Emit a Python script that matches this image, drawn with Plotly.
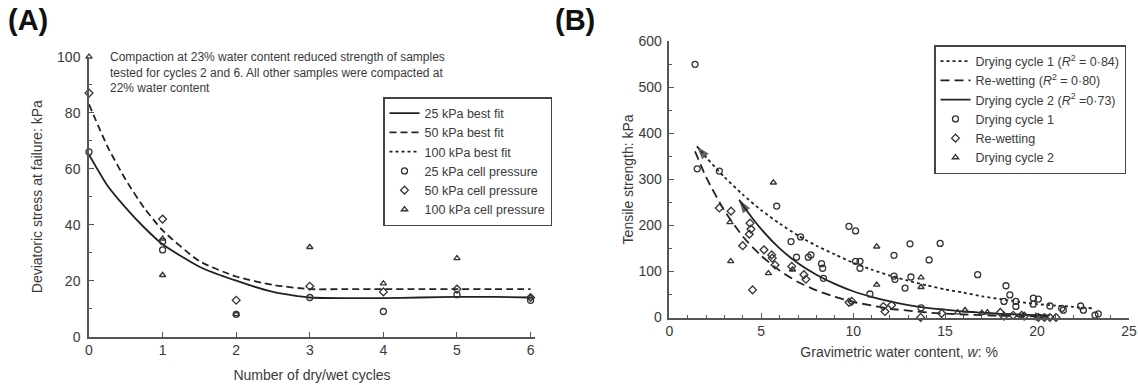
import plotly.graph_objects as go

# ---------------- Panel A data ----------------
cycles_25 = [0, 1, 1, 2, 3, 4, 5, 6]
stress_25 = [66, 31, 34, 8, 14, 9, 15, 13]
cycles_50 = [0, 1, 2, 3, 4, 5, 6]
stress_50 = [87, 42, 13, 18, 16, 17, 14]
cycles_100 = [0, 1, 1, 2, 3, 4, 5, 6]
stress_100 = [100, 35, 22, 8, 32, 19, 28, 14]

fit_cycles = [0, 0.25, 0.5, 0.75, 1, 1.5, 2, 2.5, 3, 3.5, 4, 4.5, 5, 5.5, 6]
fit_25 = [65, 54, 46, 39, 33, 25, 20, 16, 14, 13.8, 13.8, 14, 14.2, 14.2, 14]
fit_50 = [83, 68, 56, 46, 38, 27, 21.5, 18.5, 17, 17, 17, 17, 17, 17, 17]
# 100 kPa best fit is listed in the legend but no curve is visible in the plot
fit_100_cycles = [None]
fit_100 = [None]

# ---------------- Panel B data ----------------
dry1_w = [1.4, 1.52, 2.72, 5.84, 6.62, 6.92, 7.14, 7.56, 7.7, 8.28, 8.34, 8.38, 9.77, 10.13,
          10.13, 10.37, 10.37, 10.91, 12.22, 12.22, 12.27, 12.82, 13.09, 13.14, 13.69, 14.13,
          14.73, 16.77, 18.2, 18.31, 18.52, 18.85, 18.85, 19.79, 19.8, 20.07, 20.7, 21.34,
          21.43, 22.37, 22.52, 23.15, 23.33]
dry1_s = [550, 323, 318, 242, 165, 131, 175, 131, 136, 117, 107, 85, 198, 188,
          122, 122, 107, 51, 135, 90, 83, 64, 160, 88, 21, 125,
          161, 93, 35, 69, 49, 35, 24, 29, 42, 40, 25, 20,
          16, 25, 16, 5, 8]

rewet_w = [2.72, 3.36, 3.99, 4.35, 4.44, 4.39, 4.53, 5.15, 5.57, 5.6, 5.75, 6.66, 7.32, 7.43,
           9.77, 9.92, 11.64, 11.73, 12.09, 13.67, 14.81, 18.0, 18.2, 18.7, 19.16, 19.3,
           20.07, 20.4, 20.7, 21.03]
rewet_s = [238, 231, 156, 181, 192, 205, 60, 147, 136, 129, 114, 111, 93, 83,
           33, 35, 24, 13, 27, 0, 9, 11, 3, 5, 5, 3,
           0, 0, 0, 0]

dry2_w = [3.30, 3.34, 5.39, 5.66, 6.7, 11.28, 11.28, 13.69, 13.69, 15.68, 16.08, 17.0, 17.3]
dry2_s = [207, 122, 96, 293, 104, 154, 71, 87, 66, 11, 16, 10, 11]

fit_dry1_w = [1.5, 2, 3, 4, 5, 6, 7, 8, 9, 10, 11, 12, 13, 14, 15, 16, 17, 18, 19, 20, 21, 22, 23]
fit_dry1_s = [372, 348, 305, 267, 233, 204, 178, 156, 137, 119, 104, 91, 80, 70, 61, 54, 46,
              40, 34, 29, 26, 23, 20]
fit_rewet_w = [1.4, 2, 3, 4, 5, 6, 7, 8, 9, 10, 11, 12, 13, 14, 15, 16, 17, 18, 19, 20, 20.6]
fit_rewet_s = [361, 305, 232, 176, 134, 102, 77, 59, 45, 34, 26, 19, 15, 11, 8.5, 6.5, 5,
               3.8, 2.9, 2.2, 1.8]
fit_dry2_w = [3.8, 4, 5, 6, 7, 8, 9, 10, 11, 12, 13, 14, 15, 16, 17, 18, 19, 20, 20.7]
fit_dry2_s = [256, 244, 192, 150, 118, 93, 73, 57, 45, 35, 27, 21, 17, 13, 10.5, 8, 6.5, 5, 4.5]

# ---------------- Styling ----------------
FONT = "Arial, Liberation Sans, sans-serif"
TXT = "#3a3a3a"
LINEC = "#222222"
AXC = "#555555"
MK = "#333333"

fig = go.Figure()

def line_trace(x, y, name, dash, xa, ya, leg):
    return go.Scatter(x=x, y=y, mode="lines", name=name, xaxis=xa, yaxis=ya, legend=leg,
                      line=dict(color=LINEC, width=1.8, dash=dash, shape="spline", smoothing=0.6),
                      cliponaxis=False, showlegend=True)

def mark_trace(x, y, name, symbol, size, xa, ya, leg):
    return go.Scatter(x=x, y=y, mode="markers", name=name, xaxis=xa, yaxis=ya, legend=leg,
                      marker=dict(symbol=symbol, size=size, color=MK,
                                  line=dict(color=MK, width=1.3)),
                      cliponaxis=False)

def arrow_trace(xs, ys):
    # arrowhead at the last point, oriented along the curve
    return go.Scatter(x=xs, y=ys, mode="markers", xaxis="x2", yaxis="y2", showlegend=False,
                      hoverinfo="skip", cliponaxis=False,
                      marker=dict(symbol="arrow", size=[0, 14], angleref="previous",
                                  color=LINEC, line=dict(width=0)))

DASH = "7px,4px"

# Panel A
fig.add_trace(line_trace(fit_cycles, fit_25, "25 kPa best fit", "solid", "x", "y", "legend"))
fig.add_trace(line_trace(fit_cycles, fit_50, "50 kPa best fit", DASH, "x", "y", "legend"))
fig.add_trace(line_trace(fit_100_cycles, fit_100, "100 kPa best fit", "dot", "x", "y", "legend"))
fig.add_trace(mark_trace(cycles_25, stress_25, "25 kPa cell pressure", "circle-open", 6, "x", "y", "legend"))
fig.add_trace(mark_trace(cycles_50, stress_50, "50 kPa cell pressure", "diamond-open", 6, "x", "y", "legend"))
fig.add_trace(mark_trace(cycles_100, stress_100, "100 kPa cell pressure", "triangle-up-open", 5.5, "x", "y", "legend"))

# Panel B
fig.add_trace(line_trace(fit_dry1_w, fit_dry1_s, "Drying cycle 1 (<i>R</i><sup>2</sup> = 0·84)", "dot", "x2", "y2", "legend2"))
fig.add_trace(line_trace(fit_rewet_w, fit_rewet_s, "Re-wetting (<i>R</i><sup>2</sup> = 0·80)", "9px,5px", "x2", "y2", "legend2"))
fig.add_trace(line_trace(fit_dry2_w, fit_dry2_s, "Drying cycle 2 (<i>R</i><sup>2</sup> =0·73)", "solid", "x2", "y2", "legend2"))
fig.add_trace(mark_trace(dry1_w, dry1_s, "Drying cycle 1", "circle-open", 6, "x2", "y2", "legend2"))
fig.add_trace(mark_trace(rewet_w, rewet_s, "Re-wetting", "diamond-open", 6, "x2", "y2", "legend2"))
fig.add_trace(mark_trace(dry2_w, dry2_s, "Drying cycle 2", "triangle-up-open", 5.5, "x2", "y2", "legend2"))

# Arrowheads on fitted curves
fig.add_trace(arrow_trace([fit_dry1_w[1], fit_dry1_w[0]], [fit_dry1_s[1], fit_dry1_s[0]]))
fig.add_trace(arrow_trace([fit_dry2_w[1], fit_dry2_w[0]], [fit_dry2_s[1], fit_dry2_s[0]]))
fig.add_trace(arrow_trace([fit_rewet_w[-2], fit_rewet_w[-1]], [fit_rewet_s[-2], fit_rewet_s[-1]]))

W, H = 1138, 385

def axis_common(**kw):
    d = dict(showline=True, linecolor=AXC, linewidth=1.5, ticks="inside", ticklen=5,
             tickwidth=1.2, tickcolor=AXC, showgrid=False, zeroline=False,
             tickfont=dict(family=FONT, size=14, color=TXT),
             title_font=dict(family=FONT, size=14, color=TXT), automargin=False)
    d.update(kw)
    return d

fig.update_layout(
    width=W, height=H,
    margin=dict(l=0, r=0, t=0, b=0),
    paper_bgcolor="white", plot_bgcolor="white",
    font=dict(family=FONT, color=TXT),
    xaxis=axis_common(domain=[89 / W, 535 / W], range=[0, 6.06], dtick=1, tick0=0,
                      title=dict(text="Number of dry/wet cycles", standoff=13), anchor="y"),
    yaxis=axis_common(domain=[1 - 336.7 / H, 1 - 56.7 / H], range=[0, 100], dtick=20,
                      ticklabelstandoff=4,
                      minor=dict(ticks="inside", ticklen=3, dtick=10, tickcolor=AXC),
                      title=dict(text="Deviatoric stress at failure: kPa", standoff=11), anchor="x"),
    xaxis2=axis_common(domain=[669.3 / W, 1129 / W], range=[0, 25], dtick=5, tick0=0,
                       minor=dict(ticks="inside", ticklen=3, dtick=1, tickcolor=AXC),
                       title=dict(text="Gravimetric water content, <i>w</i>: %", standoff=9), anchor="y2"),
    yaxis2=axis_common(domain=[1 - 317.5 / H, 1 - 41.3 / H], range=[0, 600], dtick=100,
                       ticklabelstandoff=3,
                       minor=dict(ticks="inside", ticklen=3, dtick=50, tickcolor=AXC),
                       title=dict(text="Tensile strength: kPa", standoff=1), anchor="x2"),
    legend=dict(x=383 / W, y=1 - 97 / H, xanchor="left", yanchor="top",
                bgcolor="white", bordercolor="#444", borderwidth=1.5,
                font=dict(family=FONT, size=12.5, color=TXT), traceorder="normal"),
    legend2=dict(x=934 / W, y=1 - 45 / H, xanchor="left", yanchor="top",
                 bgcolor="white", bordercolor="#444", borderwidth=1.5,
                 font=dict(family=FONT, size=12.5, color=TXT), traceorder="normal"),
    showlegend=True,
)

# Panel labels and note
fig.add_annotation(x=6 / W, y=1 - 2 / H, xref="paper", yref="paper", xanchor="left", yanchor="top",
                   text="<b>(A)</b>", showarrow=False, font=dict(family=FONT, size=29, color="#111"))
fig.add_annotation(x=553 / W, y=1 - 2 / H, xref="paper", yref="paper", xanchor="left", yanchor="top",
                   text="<b>(B)</b>", showarrow=False, font=dict(family=FONT, size=29, color="#111"))
fig.add_annotation(x=108 / W, y=1 - 48 / H, xref="paper", yref="paper", xanchor="left", yanchor="top",
                   align="left", showarrow=False, font=dict(family=FONT, size=12, color=TXT),
                   text="Compaction at 23% water content reduced strength of samples<br>"
                        "tested for cycles 2 and 6. All other samples were compacted at<br>"
                        "22% water content")

fig.write_html("out.html")
